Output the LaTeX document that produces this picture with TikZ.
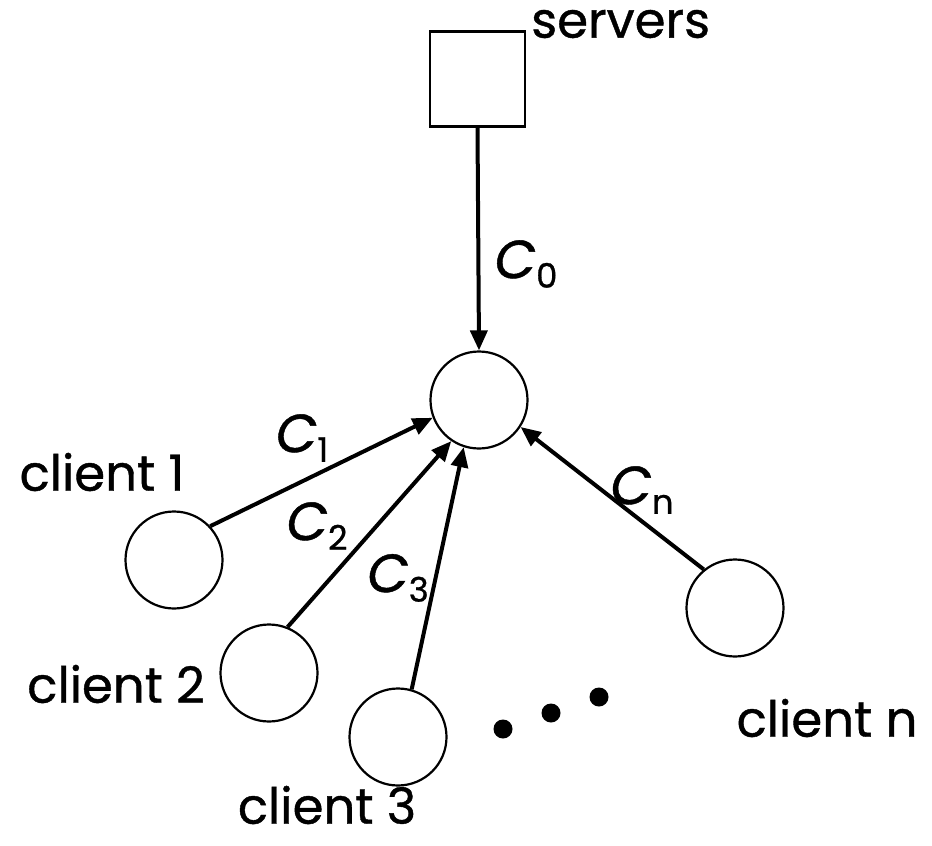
\documentclass[tikz,border=0pt]{standalone}
\usepackage{fontspec}
\setmainfont{Poppins}[FakeBold=0.8]
\usetikzlibrary{arrows.meta}
\newcommand{\capc}[1]{{\fontsize{54}{56}\selectfont\itshape C}\raisebox{-0.35ex}{\fontsize{34}{34}\selectfont #1}}
\tikzset{
  hub/.style={circle, draw, line width=2.2bp, minimum size=97bp, inner sep=0pt},
  srv/.style={rectangle, draw, line width=2.2bp, minimum size=95bp, inner sep=0pt},
  link/.style={line width=4bp, -{Triangle[length=20bp, width=17bp]}},
  lbl/.style={font=\fontsize{50}{54}\selectfont, inner sep=0pt},
  dot/.style={circle, fill, minimum size=19bp, inner sep=0pt},
}
\begin{document}
\begin{tikzpicture}[x=1bp, y=-1bp]
\useasboundingbox (0,0) rectangle (932,846);
% server and aggregation point
\node[srv] (server) at (477.5,79) {};
\node[lbl, anchor=west] (srvtxt) at (531,24) {servers};
\node[hub] (hub) at (479,400) {};
% clients
\node[hub] (c1) at (174,560) {};
\node[hub] (c2) at (269,673) {};
\node[hub] (c3) at (398,737) {};
\node[hub] (cn) at (735,608) {};
\node[lbl] (t1) at (102,472) {client 1};
\node[lbl] (t2) at (116,684) {client 2};
\node[lbl] (t3) at (327,805) {client 3};
\node[lbl] (tn) at (827,718) {client n};
% ellipsis dots
\node[dot] (d1) at (503,729) {};
\node[dot] (d2) at (551,713) {};
\node[dot] (d3) at (599,697) {};
% links
\draw[link] (server.south) -- (hub.north);
\draw[link] (c1.43) -- (hub.201);
\draw[link] (c2.68) -- (hub.236);
\draw[link] (c3.74) -- (hub.252);
\draw[link] (cn.129) -- (hub.327);
% capacities
\node[lbl] (l0) at (526,264) {\capc{0}};
\node[lbl] (l1) at (302,438) {\capc{1}};
\node[lbl] (l2) at (317,526) {\capc{2}};
\node[lbl] (l3) at (398,578) {\capc{3}};
\node[lbl] (ln) at (642,490) {\capc{n}};
\end{tikzpicture}
\end{document}
